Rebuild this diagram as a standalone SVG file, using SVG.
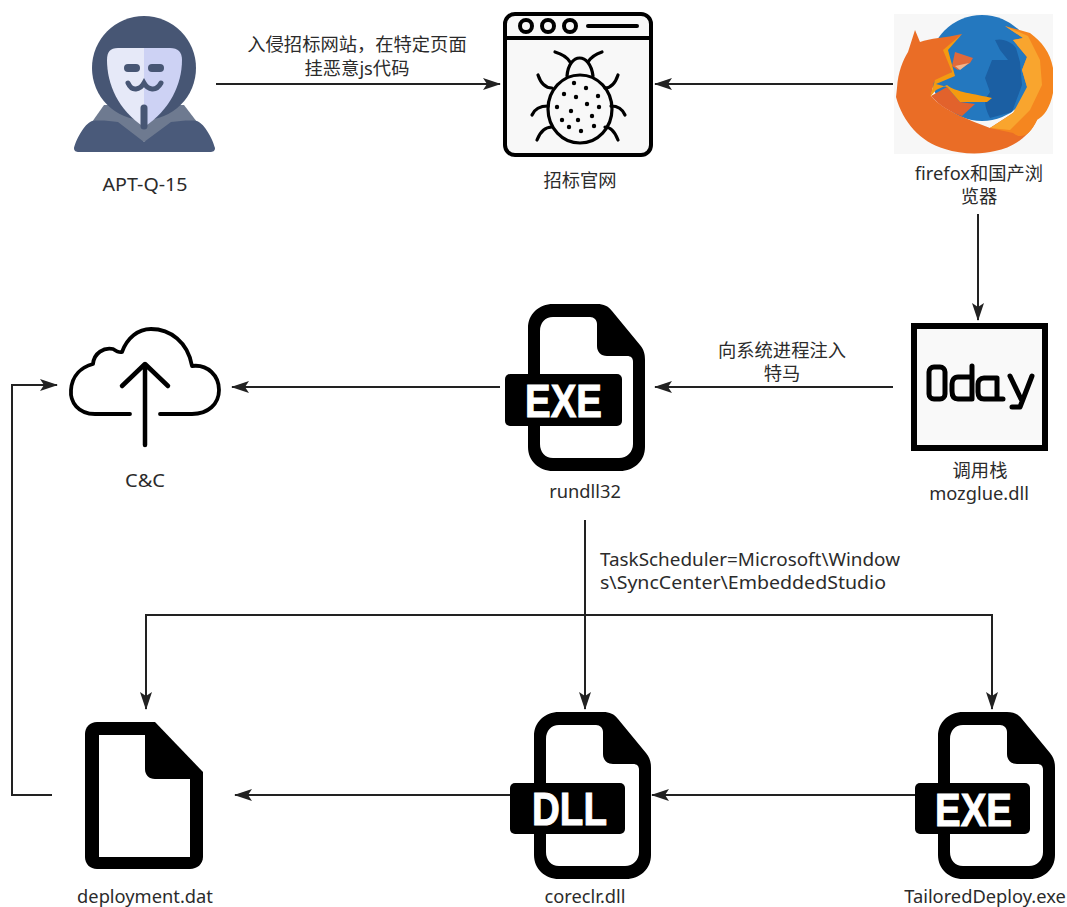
<svg xmlns="http://www.w3.org/2000/svg" width="1067" height="907" viewBox="0 0 1067 907">
<style>
text{font-family:"Noto Sans","Noto Sans CJK SC",sans-serif;font-size:18.3px;fill:#2b2b2b;text-anchor:middle}
.ic{fill:none;stroke:#000;stroke-linejoin:round;stroke-linecap:round}
.c{fill:none;stroke:#222;stroke-width:2}
text.lbl{font-family:"Liberation Sans",sans-serif;font-weight:700;fill:#fff;stroke:#fff;stroke-width:1;font-size:47px;text-anchor:start}
</style>
<defs>
<marker id="a" markerUnits="userSpaceOnUse" markerWidth="18" markerHeight="12" refX="17" refY="6" orient="auto"><path d="M0 0L18 6L0 12L4 6Z" fill="#222"/></marker>
<path id="docO" d="M553 304H597C604 304 608 306 612 311L640 345C644 350 645 354 645 360V447C645 461 634 471 620 471H553C539 471 528 461 528 447V328C528 314 539 304 553 304Z" fill="#000"/>
<path id="docI" d="M553 317H590C594 317 597 320 597 324V346C597 352 601 356 607 356H627C631 356 633 358 633 362V444C633 452 627 458 619 458H553C545 458 540 452 540 444V331C540 323 545 317 553 317Z" fill="#fff"/>
</defs>
<rect width="1067" height="907" fill="#fff"/>
<g id="connectors">
<path class="c" d="M216 84H500" marker-end="url(#a)"/>
<path class="c" d="M893 84H655" marker-end="url(#a)"/>
<path class="c" d="M978 214V320" marker-end="url(#a)"/>
<path class="c" d="M893 387H655" marker-end="url(#a)"/>
<path class="c" d="M500 387H232" marker-end="url(#a)"/>
<path class="c" d="M52 795H12V385H57" marker-end="url(#a)"/>
<path class="c" d="M585 520V709" marker-end="url(#a)"/>
<path class="c" d="M585 615H146V709" marker-end="url(#a)"/>
<path class="c" d="M585 615H992V709" marker-end="url(#a)"/>
<path class="c" d="M915 795H652" marker-end="url(#a)"/>
<path class="c" d="M510 795H235" marker-end="url(#a)"/>
<text x="357" y="51">入侵招标网站，在特定页面</text>
<text x="357" y="75">挂恶意js代码</text>
<text x="782" y="357">向系统进程注入</text>
<text x="782" y="380">特马</text>
<text x="750" y="566" textLength="300" lengthAdjust="spacingAndGlyphs">TaskScheduler=Microsoft\Window</text>
<text x="743" y="589" textLength="286" lengthAdjust="spacingAndGlyphs">s\SyncCenter\EmbeddedStudio</text>
</g>
<g id="apt">
<path d="M92 122L104 105H184L197 122L144 142Z" fill="#6e7a90"/>
<path d="M74 148C76 140 84 124 92 121C100 120 110 121 118 122L144 142L171 122C180 121 190 120 197 121C205 124 213 140 215 148C215 151 213 152 210 152H79C76 152 74 151 74 148Z" fill="#4a5a7a"/>
<circle cx="144" cy="68" r="52" fill="#475674"/>
<path d="M144 48H118C110 48 107 52 107 60C107 84 118 110 144 127Z" fill="#e6e9f8"/>
<path d="M144 48H170C178 48 182 52 182 60C182 84 170 110 144 127Z" fill="#cdd2f4"/>
<rect x="124" y="64" width="16" height="8" rx="4" fill="#475674"/>
<rect x="148" y="64" width="16" height="8" rx="4" fill="#475674"/>
<path d="M128 83C132 92 140 90 144 83C148 90 156 92 161 83" fill="none" stroke="#475674" stroke-width="5" stroke-linecap="round"/>
<path d="M144 108V126" stroke="#475674" stroke-width="7" stroke-linecap="round"/>
<text x="145" y="191" textLength="85" lengthAdjust="spacingAndGlyphs">APT-Q-15</text>
</g>
<g id="site">
<rect x="505" y="14" width="146" height="141" rx="10" fill="#f8f8f8" stroke="#000" stroke-width="4"/>
<path d="M505 38H651" stroke="#000" stroke-width="4"/>
<g class="ic" stroke-width="4">
<circle cx="526" cy="26" r="6"/><circle cx="548" cy="26" r="6"/><circle cx="570" cy="26" r="6"/>
<path d="M588 26H637"/>
<ellipse cx="580" cy="109" rx="32" ry="34" stroke-width="3.2"/>
<path d="M567 76C569 52 590 52 593 76" stroke-width="3.2"/>
<path d="M555 52C562 54 567 57 570 62M602 52C596 54 591 57 588 62M538 75C541 84 546 88 552 88M618 75C615 84 611 88 605 88M532 115C535 108 541 106 548 106M625 115C622 108 617 106 611 106M537 140C540 132 545 127 552 127M618 140C615 132 611 127 605 127" stroke-width="3.2"/>
</g>
<g fill="#000"><circle cx="574" cy="83" r="2.2"/><circle cx="586" cy="88" r="2.2"/><circle cx="564" cy="94" r="2.2"/><circle cx="576" cy="97" r="2.2"/><circle cx="598" cy="96" r="2.2"/><circle cx="587" cy="104" r="2.2"/><circle cx="557" cy="107" r="2.2"/><circle cx="571" cy="111" r="2.2"/><circle cx="599" cy="107" r="2.2"/><circle cx="592" cy="116" r="2.2"/><circle cx="562" cy="120" r="2.2"/><circle cx="578" cy="120" r="2.2"/><circle cx="569" cy="127" r="2.2"/><circle cx="594" cy="126" r="2.2"/><circle cx="581" cy="131" r="2.2"/></g>
<text x="580" y="187">招标官网</text>
</g>
<g id="firefox">
<rect x="894" y="14" width="159" height="140" fill="#f7f7f7"/>
<circle cx="982" cy="68" r="53" fill="#2478bf"/>
<path d="M995 40C1003 38 1012 42 1016 48L1020 62L1022 85L1012 112L990 118C986 110 984 104 986 98L990 92L985 78L992 60L1008 60L1000 50Z" fill="#1b5fa3"/>
<path d="M915 30L920 42C930 38 945 38 962 34L945 50L952 72L934 82L931 96C945 112 970 120 990 128L1013 113L1037 120C1030 135 1015 147 995 151C980 155 960 154 945 149C920 142 903 122 896 97L897 88C898 72 903 60 908 52Z" fill="#ea6d26"/>
<path d="M931 96L947 87L960 102L975 104L962 116C950 112 940 106 931 96Z" fill="#e2622c"/>
<path d="M1005 26L1030 33C1042 42 1050 52 1053 68L1053 93C1050 108 1044 116 1037 120C1030 135 1022 140 1013 133L990 128C1002 122 1008 118 1013 113C1022 103 1027 96 1027 87L1022 70L1027 57L1013 40L1023 38Z" fill="#f5861f"/>
<path d="M1005 26L1028 36L1040 60L1042 85L1030 110L1010 130L990 128L1013 113L1027 87L1022 70L1027 57L1013 40L1023 38Z" fill="#f9a52e"/>
<path d="M962 34L943 50L952 72L935 80L930 97L936 90L947 85C955 92 975 94 992 98L987 102H960L947 87L936 84L955 76L948 50Z" fill="#f49a10"/>
<path d="M955 52L973 58L970 63L958 70L952 66Z" fill="#e0693a"/>
<path d="M955 66L969 63L960 70Z" fill="#f2b48c"/>
<text x="979" y="180">firefox和国产浏</text>
<text x="979" y="203">览器</text>
</g>
<g id="oday">
<rect x="914" y="326" width="131" height="122" fill="#f9f9f9" stroke="#000" stroke-width="6"/>
<g class="ic" stroke-width="5">
<rect x="929" y="367" width="16" height="32" rx="5"/>
<path d="M972 366V399H958C953 399 952 395 952 391V384C952 380 954 377 958 377H972"/>
<path d="M997 399V378H984C980 378 978 381 978 384V392C978 397 980 399 984 399H997M997 399H1003"/>
<path d="M1010 376L1021 399M1032 376L1020 407H1012"/>
</g>
<text x="980" y="477">调用栈</text>
<text x="979" y="500">mozglue.dll</text>
</g>
<g id="rundll32">
<use href="#docO"/><use href="#docI"/>
<rect x="505" y="374" width="117" height="52" rx="5" fill="#000"/>
<text class="lbl" x="525" y="417" textLength="77" lengthAdjust="spacingAndGlyphs">EXE</text>
<text x="585" y="498">rundll32</text>
</g>
<g id="cc">
<path d="M130 414H95C78 414 70 402 71 390C72 375 82 367 93 364C94 353 104 347 113 349C116 351 119 353 122 352C127 338 138 329 151 329C170 329 188 342 192 366C208 364 219 376 219 390C219 404 208 414 192 414H160" class="ic" stroke-width="3.8"/>
<path d="M145 445V365M122 386L145 364L168 386" class="ic" stroke-width="4.5"/>
<text x="145" y="487" textLength="40" lengthAdjust="spacingAndGlyphs">C&amp;C</text>
</g>
<g id="deployment">
<path d="M97 722H155L203 772V857C203 864 197 869 190 869H97C90 869 85 864 85 857V734C85 727 90 722 97 722Z" fill="#000"/>
<path d="M99 735H145V769C145 775 149 779 155 779H190V857H99Z" fill="#fff"/>
<text x="145" y="903">deployment.dat</text>
</g>
<g id="coreclr">
<use href="#docO" transform="translate(6 408)"/><use href="#docI" transform="translate(6 408)"/>
<rect x="510" y="783" width="115" height="51" rx="5" fill="#000"/>
<text class="lbl" x="532" y="825" textLength="75" lengthAdjust="spacingAndGlyphs">DLL</text>
<text x="585" y="903">coreclr.dll</text>
</g>
<g id="tailored">
<use href="#docO" transform="translate(410 408)"/><use href="#docI" transform="translate(410 408)"/>
<rect x="915" y="783" width="115" height="51" rx="5" fill="#000"/>
<text class="lbl" x="935" y="826" textLength="77" lengthAdjust="spacingAndGlyphs">EXE</text>
<text x="985" y="903">TailoredDeploy.exe</text>
</g>
</svg>
